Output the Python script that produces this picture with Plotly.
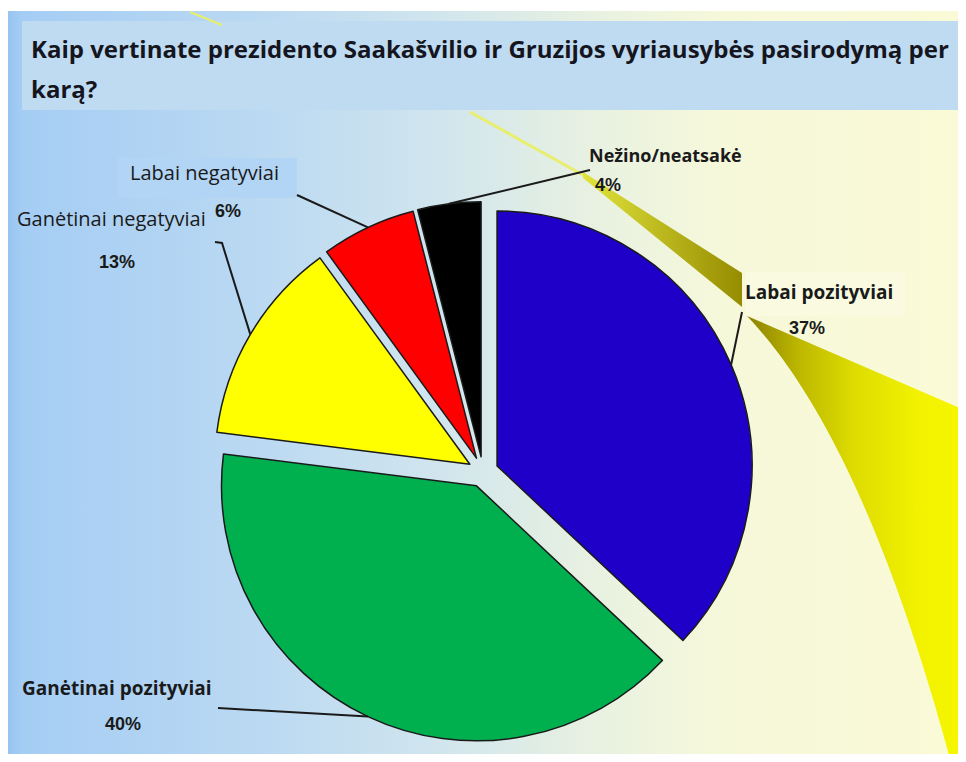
import math
import plotly.graph_objects as go

# ---------------- data ----------------
categories = ["Labai pozityviai", "Ganėtinai pozityviai", "Ganėtinai negatyviai",
              "Labai negatyviai", "Nežino/neatsakė"]
values = [37, 40, 13, 6, 4]
pct_labels = ["37%", "40%", "13%", "6%", "4%"]
title_line1 = "Kaip vertinate prezidento Saakašvilio ir Gruzijos vyriausybės pasirodymą per"
title_line2 = "karą?"

# ---------------- styles / layout ----------------
colors = ["#1E00C8", "#00B04F", "#FFFF00", "#FF0000", "#000000"]
W, H = 950, 746
OX, OY = 8, 8
X0, X1 = OX, OX + W
Y0, Y1 = OY, OY + H

CX, CY = 483, 472      # pie centre (px)
R = 255                # pie radius (px)
PULL = 0.06
half = R * (1 + PULL)
dom_x = [(CX - half - OX) / W, (CX + half - OX) / W]
dom_y = [1 - (CY + half - OY) / H, 1 - (CY - half - OY) / H]

name_xy = [(819, 292), (116, 688), (111, 218), (204, 172), (665, 155)]
name_bold = [True, True, False, False, True]
name_size = [19, 19, 20, 20, 18]
pct_xy = [(807, 328), (123, 724), (117, 262), (228, 211), (608, 185)]
leader_end = [(742, 312), (218, 708), (215, 242), (297, 195), (590, 170)]
leader_elbow = [None, None, (222, 243), None, None]

fig = go.Figure()

# background gradient
fig.add_trace(go.Scatter(
    x=[X0, X1, X1, X0, X0], y=[11, 11, Y1, Y1, 11], mode="none", fill="toself",
    fillgradient=dict(type="horizontal", colorscale=[
        [0.0, "rgb(150,196,240)"], [0.015, "rgb(165,205,244)"],
        [0.25, "rgb(185,216,242)"], [0.45, "rgb(208,229,238)"],
        [0.6, "rgb(230,240,226)"], [0.75, "rgb(246,248,218)"],
        [1.0, "rgb(250,250,214)"]]),
    hoverinfo="skip", showlegend=False))

# decorative swoosh
fig.add_trace(go.Scatter(
    x=[470, 583], y=[112, 175], mode="lines",
    line=dict(color="rgb(232,238,110)", width=3), hoverinfo="skip", showlegend=False))
fig.add_trace(go.Scatter(
    x=[583, 742, 742, 583, 583], y=[172, 273, 307, 178, 172], mode="none", fill="toself",
    fillgradient=dict(type="horizontal", colorscale=[
        [0.0, "rgb(225,228,60)"], [1.0, "rgb(150,140,0)"]]),
    hoverinfo="skip", showlegend=False))
# curved band (quadratic bezier inner edge)
p0, pc, p1 = (747, 316), (865, 440), (953, 770)
inner = []
for k in range(41):
    t = k / 40.0
    bx = (1 - t) ** 2 * p0[0] + 2 * (1 - t) * t * pc[0] + t ** 2 * p1[0]
    by = (1 - t) ** 2 * p0[1] + 2 * (1 - t) * t * pc[1] + t ** 2 * p1[1]
    inner.append((bx, by))
sw_x = [747, 962, 962] + [p[0] for p in reversed(inner)]
sw_y = [316, 409, 770] + [p[1] for p in reversed(inner)]
fig.add_trace(go.Scatter(
    x=sw_x, y=sw_y, mode="none", fill="toself",
    fillgradient=dict(type="horizontal", colorscale=[
        [0.0, "rgb(140,130,0)"], [0.25, "rgb(190,185,0)"], [0.5, "rgb(222,220,0)"],
        [0.8, "rgb(242,242,0)"], [1.0, "rgb(246,246,0)"]]),
    hoverinfo="skip", showlegend=False))

# pie
fig.add_trace(go.Pie(
    labels=categories, values=values, sort=False, direction="clockwise", rotation=0,
    pull=[PULL] * len(values),
    marker=dict(colors=colors, line=dict(color="#1a1a1a", width=1.5)),
    textinfo="none", hoverinfo="label+percent",
    domain=dict(x=dom_x, y=dom_y), showlegend=False))

shapes = []
# title box
shapes.append(dict(type="rect", xref="x", yref="y", x0=22, x1=962, y0=21, y1=110,
                   fillcolor="rgb(190,219,241)", line=dict(width=0), layer="above"))
shapes.append(dict(type="line", xref="x", yref="y", x0=190, y0=12, x1=222, y1=25,
                   line=dict(color="rgb(232,238,110)", width=2), layer="above"))
# label boxes
shapes.append(dict(type="rect", xref="x", yref="y", x0=745, x1=905, y0=272, y1=316,
                   fillcolor="rgb(249,250,224)", line=dict(width=0), layer="above"))
shapes.append(dict(type="rect", xref="x", yref="y", x0=118, x1=297, y0=158, y1=198,
                   fillcolor="rgb(178,212,245)", line=dict(width=0), layer="above"))

# leader lines computed from slice angles
total = float(sum(values))
cum = 0.0
for i, v in enumerate(values):
    mid = math.radians((cum + v / 2.0) / total * 360.0)
    cum += v
    rr = R * (1 + PULL)
    ax = CX + rr * math.sin(mid)
    ay = CY - rr * math.cos(mid)
    ex, ey = leader_end[i]
    if leader_elbow[i]:
        bx, by = leader_elbow[i]
        path = f"M {ex},{ey} L {bx},{by} L {ax:.1f},{ay:.1f}"
    else:
        path = f"M {ex},{ey} L {ax:.1f},{ay:.1f}"
    shapes.append(dict(type="path", xref="x", yref="y", path=path,
                       line=dict(color="#1a1a1a", width=2), layer="above"))

annotations = []
annotations.append(dict(x=29, y=48, xref="x", yref="y", text="<b>" + title_line1 + "</b>",
                        showarrow=False, xanchor="left", yanchor="middle",
                        font=dict(family="Open Sans", size=24, color="#151520")))
annotations.append(dict(x=29, y=88, xref="x", yref="y", text="<b>" + title_line2 + "</b>",
                        showarrow=False, xanchor="left", yanchor="middle",
                        font=dict(family="Open Sans", size=24, color="#151520")))
for i, name in enumerate(categories):
    nx, ny = name_xy[i]
    txt = f"<b>{name}</b>" if name_bold[i] else name
    annotations.append(dict(x=nx, y=ny, xref="x", yref="y", text=txt, showarrow=False,
                            xanchor="center", yanchor="middle",
                            font=dict(family="Open Sans", size=name_size[i], color="#1a1a1a")))
    px_, py_ = pct_xy[i]
    annotations.append(dict(x=px_, y=py_, xref="x", yref="y", text=f"<b>{pct_labels[i]}</b>",
                            showarrow=False, xanchor="center", yanchor="middle",
                            font=dict(family="Liberation Sans", size=18, color="#1a1a1a")))

fig.update_layout(
    width=W, height=H, margin=dict(l=0, r=0, t=0, b=0, pad=0),
    paper_bgcolor="white", plot_bgcolor="rgba(0,0,0,0)",
    showlegend=False,
    xaxis=dict(range=[X0, X1], visible=False, fixedrange=True),
    yaxis=dict(range=[Y1, Y0], visible=False, fixedrange=True),
    shapes=shapes, annotations=annotations)

fig.write_html("out.html")
